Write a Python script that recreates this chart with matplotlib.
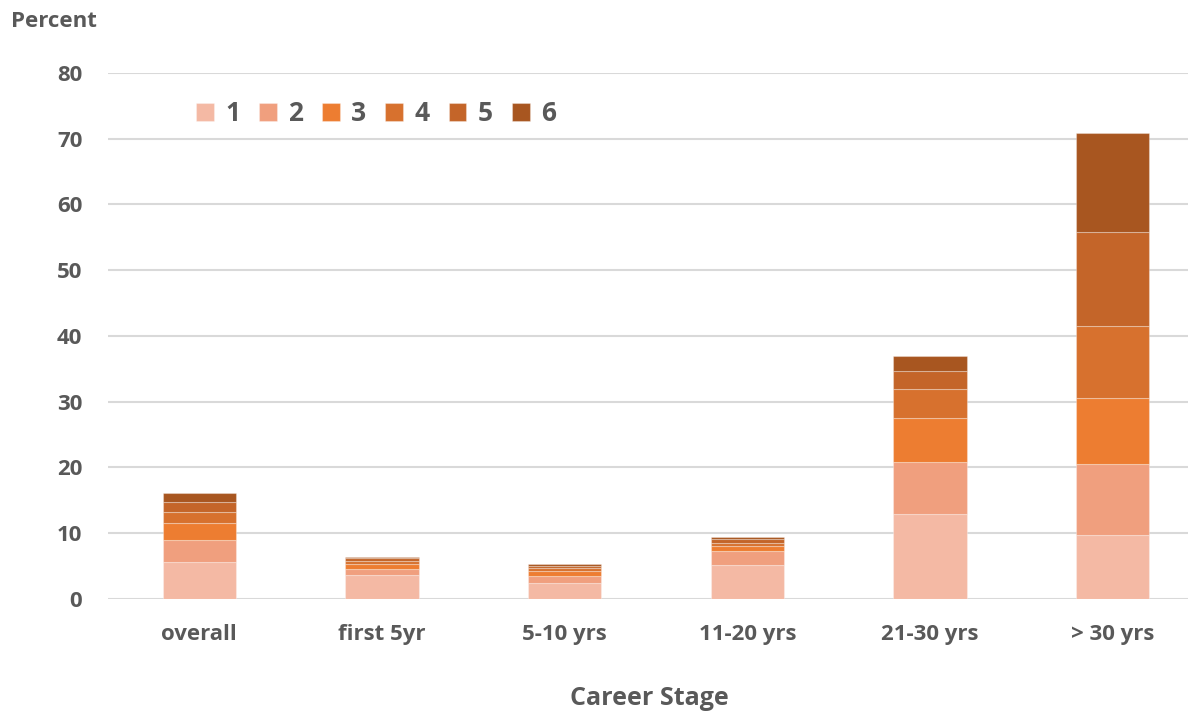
import matplotlib.pyplot as plt
import numpy as np

# career stage groups and the six stacked levels (percent)
stages = ['overall', 'first 5yr', '5-10 yrs', '11-20 yrs', '21-30 yrs', '> 30 yrs']
levels = ['1', '2', '3', '4', '5', '6']
level_1 = [5.67, 3.65, 2.48, 5.17, 12.93, 9.78]
level_2 = [3.30, 0.91, 1.02, 2.13, 7.91, 10.75]
level_3 = [2.54, 0.76, 0.76, 0.76, 6.69, 10.04]
level_4 = [1.68, 0.51, 0.50, 0.50, 4.41, 10.95]
level_5 = [1.52, 0.36, 0.30, 0.52, 2.74, 14.25]
level_6 = [1.36, 0.24, 0.26, 0.40, 2.32, 15.06]
yticks = [0, 10, 20, 30, 40, 50, 60, 70, 80]

colors = ['#F4B9A4', '#F09F7E', '#ED7D31', '#D7712E', '#C46529', '#A85620']
text_gray = '#595959'
font = 'Open Sans'

fig = plt.figure(figsize=(11.88, 7.12), dpi=100)
ax = fig.add_axes([0.0909, 0.1587, 0.9226, 0.7388])

x = np.arange(len(stages))
bottom = np.zeros(len(stages))
handles = []
for name, vals, c in zip(levels, [level_1, level_2, level_3, level_4, level_5, level_6], colors):
    b = ax.bar(x, vals, width=0.4, bottom=bottom, color=c, label=name,
               edgecolor=(1, 1, 1, 0.3), linewidth=0.8, zorder=3)
    handles.append(b)
    bottom += np.array(vals)

ax.set_xlim(-0.5, len(stages) - 0.5)
ax.set_ylim(0, 80)
ax.set_yticks(yticks)
ax.set_xticks(x)
ax.set_xticklabels(stages)
ax.yaxis.grid(True, color='#D9D9D9', linewidth=1.5, zorder=0)
ax.set_axisbelow(True)
for s in ax.spines.values():
    s.set_visible(False)
ax.tick_params(length=0)
ax.tick_params(axis='y', pad=18.5)
ax.tick_params(axis='x', pad=18)
for lab in ax.get_yticklabels() + ax.get_xticklabels():
    lab.set_fontfamily(font)
    lab.set_fontweight('bold')
    lab.set_color(text_gray)
    lab.set_fontsize(16)

fig.text(0.0095, 0.9625, 'Percent', fontfamily=font, fontweight='bold',
         fontsize=16, color=text_gray, ha='left', va='baseline')
fig.text(0.5467, 0.0098, 'Career Stage', fontfamily=font, fontweight='bold',
         fontsize=18, color=text_gray, ha='center', va='baseline')

leg = fig.legend(handles=handles, loc='center left', bbox_to_anchor=(0.154, 0.840),
                 ncol=6, frameon=False, borderpad=0, handlelength=0.68, handleheight=0.68,
                 handletextpad=0.42, columnspacing=0.72,
                 prop={'family': font, 'weight': 'bold', 'size': 19})
for t in leg.get_texts():
    t.set_color(text_gray)

fig.savefig('out.png', dpi=100)
